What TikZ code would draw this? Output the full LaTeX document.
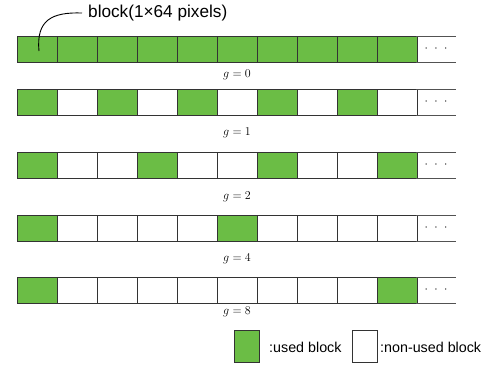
\documentclass[tikz,border=0pt]{standalone}
\usepackage{fontspec}
\setsansfont{Liberation Sans}
\definecolor{usedgreen}{HTML}{6BBD45}
\definecolor{edge}{HTML}{333333}
\begin{document}
\begin{tikzpicture}[x=1pt,y=-1pt,
  cell/.style={draw=edge, line width=1pt, minimum width=40pt, minimum height=26pt,
    inner sep=0pt, outer sep=0pt},
  dotcell/.style={minimum width=40pt, minimum height=26pt, inner sep=0pt, outer sep=0pt,
    font=\fontsize{13}{15}\selectfont},
  rowline/.style={draw=edge!85, line width=1pt},
  glabel/.style={inner sep=0pt, font=\fontsize{13}{15}\selectfont},
  txt/.style={inner sep=0pt, anchor=west, font=\sffamily\fontsize{14.3}{16}\selectfont},
  keybox/.style={draw=edge, line width=1pt, minimum width=25pt, minimum height=32pt,
    inner sep=0pt, outer sep=0pt}]
\useasboundingbox (0,0) rectangle (498,367);

% rows of blocks: top edge / spacing of used blocks / g value / label height
\foreach \tp/\st/\g/\ly [count=\r] in {36/1/0/75, 89/2/1/133, 152/3/2/197, 215/5/4/259, 277/9/8/312} {
  \foreach \i in {0,...,9} {
    \pgfmathtruncatemacro\m{mod(\i,\st)}
    \ifnum\m=0 \def\fc{usedgreen}\else\def\fc{white}\fi
    \node[cell, fill=\fc] (c\r-\i) at ({37+40*\i}, {\tp+13}) {};
  }
  \node[dotcell] (d\r) at (436, {\tp+13}) {$\cdot$\hspace{6.5pt}$\cdot$\hspace{6.5pt}$\cdot$};
  \draw[rowline] (d\r.north west) -- (d\r.north east);
  \draw[rowline] (d\r.south west) -- (d\r.south east);
  \node[glabel] (g\r) at (237, \ly) {$g=\g$};
}

% callout for a single block
\node[txt, font=\sffamily\fontsize{17.2}{19}\selectfont] (lbl) at (88, 13) {block(1×64 pixels)};
\draw[black, line width=0.9pt] ([xshift=2pt,yshift=-2pt]c1-0.center) .. controls (36,20) and (52,12) .. ([xshift=-6pt]lbl.west);

% legend
\node[keybox, fill=usedgreen] (k1) at (246.5, 346.5) {};
\node[txt] (t1) at (269, 347) {:used block};
\node[keybox, fill=white] (k2) at (364.5, 346.5) {};
\node[txt] (t2) at (380, 347) {:non-used block};
\end{tikzpicture}
\end{document}
